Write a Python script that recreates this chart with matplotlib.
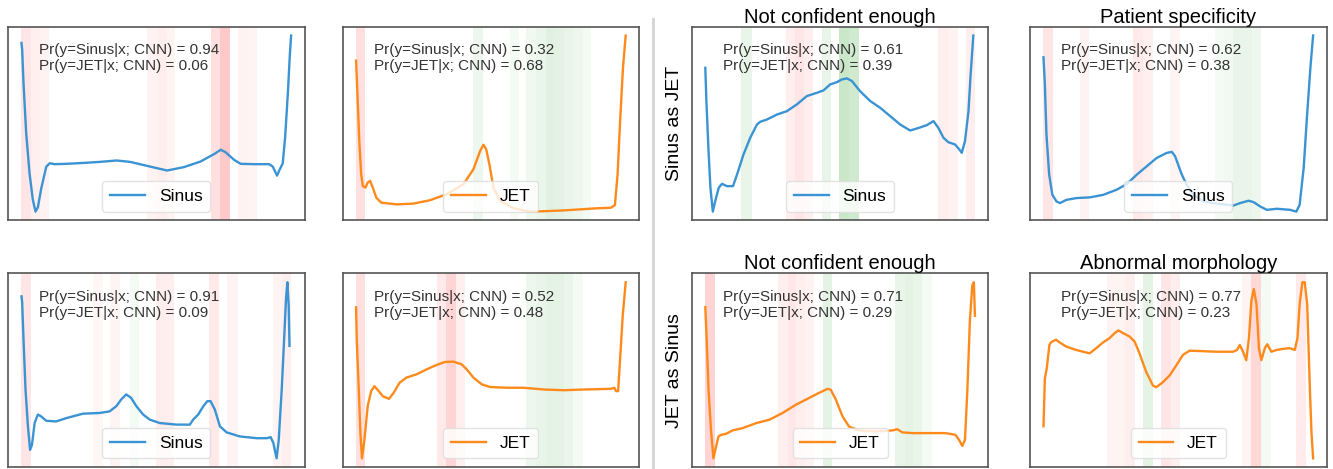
import matplotlib
matplotlib.use("Agg")
import matplotlib.pyplot as plt
from matplotlib.lines import Line2D

plt.rcParams["font.family"] = ["Liberation Sans", "DejaVu Sans"]

# ---- waveforms: (x, y) pairs, x in % of the beat, y in arbitrary units
p1_x = [0, 0.25, 0.75, 1.74, 2.99, 4.23, 5.22, 6.09, 7.34, 9.2, 10.45, 12.3, 16.7, 22.9, 29.1, 35.3, 40.3,
        47.8, 54.0, 60.2, 66.4, 71.4, 73.9, 75.7, 78.9, 81.3, 86.3, 91.9, 93.2, 94.8, 95.6, 96.9, 97.8,
        98.8, 99.5, 100]
p1_y = [96.4, 92.6, 73.6, 45.1, 22.2, 7.0, 0.4, 2.9, 13.7, 26.0, 27.9, 27.4, 27.6, 28.1, 28.7, 29.5, 28.7,
        26.0, 23.8, 25.7, 28.9, 33.1, 35.6, 34.2, 29.8, 27.6, 27.4, 27.4, 26.0, 20.9, 23.8, 27.9, 43.2,
        67.9, 88.8, 100.6]

p2_x = [0, 0.1, 0.6, 1.2, 1.9, 2.5, 3.5, 4.3, 5.2, 6.2, 7.5, 9.3, 14.9, 21.1, 27.3, 33.5, 39.8, 43.5,
        46.0, 47.2, 48.2, 49.4, 50.9, 53.4, 58.4, 64.6, 70.8, 77.0, 83.2, 89.4, 94.4, 95.9, 96.9, 97.9,
        98.9, 99.9]
p2_y = [86.1, 82.3, 63.4, 40.7, 21.8, 15.2, 14.3, 17.1, 18.1, 14.3, 8.6, 5.8, 4.8, 5.2, 7.1, 10.5, 16.2,
        24.7, 35.1, 38.5, 36.1, 27.5, 14.3, 6.7, 2.6, 0.7, 1.0, 1.4, 2.0, 2.6, 2.9, 4.4, 21.8, 53.9,
        82.3, 100.3]

p3_x = [0, 0.4, 1.2, 1.9, 2.8, 3.7, 5.0, 6.2, 8.0, 10.3, 11.8, 14.2, 16.7, 19.2, 20.4, 22.9, 26.6, 30.3,
        34.0, 37.7, 41.5, 43.9, 46.4, 48.9, 50.7, 52.6, 54.5, 57.5, 61.3, 65.0, 68.7, 72.4, 76.1, 78.6,
        82.3, 84.8, 86.6, 88.5, 90.3, 92.8, 94.4, 95.3, 96.5, 97.8, 98.6, 99.6]
p3_y = [81.5, 62.7, 34.5, 13.8, 0.3, 6.3, 13.8, 16.0, 14.7, 14.7, 21.3, 32.6, 42.0, 49.5, 51.0, 52.3,
        55.1, 57.0, 60.8, 65.5, 67.4, 68.7, 72.1, 73.4, 74.9, 75.5, 74.0, 68.3, 62.7, 58.9, 54.2, 49.5,
        46.1, 47.2, 49.1, 51.4, 47.6, 42.0, 39.5, 38.2, 35.4, 33.5, 40.1, 57.0, 77.7, 99.7]

p4_x = [0, 0.5, 1.1, 2.1, 3.3, 4.8, 6.1, 8.5, 12.2, 17.2, 22.1, 27.1, 30.8, 34.5, 38.2, 41.9, 45.6, 47.5,
        48.7, 51.2, 53.0, 55.5, 59.2, 62.9, 70.3, 72.8, 75.9, 77.8, 80.2, 82.7, 86.4, 91.3, 93.6, 94.8,
        96.3, 97.5, 98.8, 99.8]
p4_y = [87.1, 72.1, 43.8, 21.3, 10.0, 6.3, 5.4, 7.2, 8.2, 8.6, 10.0, 12.9, 16.0, 21.3, 26.0, 30.7, 33.5,
        34.1, 31.7, 21.3, 15.7, 10.0, 6.3, 5.4, 4.0, 5.4, 6.7, 5.9, 3.5, 1.6, 2.2, 1.6, 0.6, 4.4, 25.0,
        53.3, 81.4, 99.3]

p5_x = [0, 0.25, 0.75, 1.5, 2.4, 3.2, 3.9, 4.9, 6.1, 7.3, 9.2, 12.9, 16.7, 22.9, 29.1, 32.8, 35.3, 37.1,
        39.0, 40.8, 42.8, 45.3, 47.8, 51.5, 57.7, 62.7, 63.9, 65.8, 67.7, 69.2, 70.4, 72.0, 73.9, 76.4,
        81.3, 87.6, 91.3, 92.8, 93.8, 95.0, 95.8, 96.9, 97.8, 98.5, 99.0, 99.5, 99.8]
p5_y = [91.9, 88.5, 67.6, 39.1, 18.2, 4.9, 7.7, 20.1, 24.9, 23.9, 21.4, 21.0, 22.9, 25.4, 25.8, 26.7,
        29.6, 33.4, 36.3, 34.4, 29.6, 24.9, 22.0, 20.1, 19.2, 19.2, 22.0, 24.9, 29.6, 32.5, 32.5, 27.7,
        18.2, 14.8, 12.5, 11.5, 11.5, 12.1, 8.7, 0.1, 10.6, 39.1, 67.6, 90.4, 99.9, 86.6, 63.8]

p6_x = [0, 0.25, 1.0, 1.6, 2.2, 3.1, 4.3, 5.6, 6.8, 8.4, 9.9, 12.2, 13.9, 16.1, 18.6, 22.4, 26.1, 29.8,
        32.9, 36.0, 39.1, 41.0, 43.5, 46.6, 49.7, 55.9, 62.1, 69.6, 77.0, 84.5, 94.4, 95.7, 96.3, 97.1,
        97.9, 98.8, 99.9]
p6_y = [85.7, 67.6, 39.1, 14.4, 0.1, 10.6, 29.6, 38.2, 41.0, 38.2, 35.3, 33.8, 37.2, 42.9, 45.8, 47.7,
        50.5, 53.0, 54.7, 54.9, 53.4, 50.5, 45.8, 42.0, 40.5, 40.1, 40.1, 39.1, 38.7, 39.1, 39.5, 40.1,
        38.2, 38.2, 58.1, 80.9, 99.9]

p7_x = [0, 0.5, 1.2, 2.1, 3.0, 4.0, 4.9, 5.8, 7.7, 10.1, 13.8, 18.8, 23.7, 28.6, 33.6, 38.5, 42.2, 45.3,
        46.5, 48.4, 50.9, 53.3, 57.0, 63.2, 69.4, 71.2, 73.1, 76.8, 81.7, 89.1, 92.8, 94.1, 95.3, 96.3,
        97.2, 98.1, 99.0, 99.6, 100.0]
p7_y = [85.2, 67.2, 38.8, 16.2, 0.1, 6.7, 12.4, 13.3, 13.9, 15.8, 17.1, 19.9, 21.8, 25.6, 30.3, 34.1,
        37.0, 39.2, 38.8, 33.2, 23.7, 18.0, 15.8, 15.2, 15.8, 16.5, 14.7, 14.3, 14.3, 14.3, 13.3, 10.5,
        7.1, 10.5, 38.8, 76.7, 97.4, 99.3, 80.4]

p8_x = [0, 0.5, 1.2, 2.2, 2.8, 3.8, 4.7, 5.9, 8.4, 12.1, 17.1, 19.6, 22.0, 24.5, 26.4, 27.8, 29.5, 31.9,
        33.8, 35.6, 38.1, 40.6, 41.8, 44.3, 46.8, 49.3, 51.7, 54.2, 57.9, 64.1, 70.3, 71.8, 72.8, 74.0,
        75.2, 76.2, 77.1, 78.0, 79.0, 79.9, 80.8, 82.1, 83.0, 84.5, 86.4, 88.9, 91.3, 93.2, 94.2, 95.0,
        96.0, 96.9, 97.8, 98.8, 99.4, 100.0]
p8_y = [18.0, 44.5, 50.2, 63.4, 64.9, 65.7, 66.3, 64.9, 62.5, 60.6, 58.7, 61.6, 64.7, 67.2, 70.0, 71.5,
        70.0, 68.1, 65.3, 58.7, 48.3, 40.7, 39.8, 42.6, 46.4, 52.1, 57.8, 60.2, 60.0, 59.6, 59.6, 60.6,
        63.4, 59.6, 54.9, 67.2, 88.0, 94.6, 86.1, 61.6, 54.9, 61.6, 63.8, 59.6, 60.6, 61.2, 61.6, 60.6,
        67.2, 86.1, 98.4, 98.4, 86.1, 38.8, 14.2, 0.1]

# ---- saliency bands: (start, end, colour, strength)
p1_bands = [(0, 3.6, "r", 0.12), (3.6, 7.0, "r", 0.07), (7.0, 10.2, "r", 0.06), (46.5, 50.2, "r", 0.06),
            (50.2, 54.0, "r", 0.08), (54.0, 57.1, "r", 0.05), (70.4, 73.5, "r", 0.14), (73.5, 77.4, "r", 0.25),
            (80.3, 83.8, "r", 0.06), (83.8, 87.3, "r", 0.05)]
p2_bands = [(0, 3.2, "r", 0.15), (43.5, 47.2, "g", 0.08), (56.9, 60.2, "g", 0.05), (63.1, 66.5, "g", 0.07),
            (66.5, 70.2, "g", 0.09), (70.2, 73.5, "g", 0.14), (73.5, 77.0, "g", 0.13), (77.0, 80.4, "g", 0.1),
            (80.4, 83.9, "g", 0.08), (83.9, 87.2, "g", 0.05)]
p3_bands = [(13.4, 17.3, "g", 0.1), (30.1, 33.4, "r", 0.08), (33.4, 36.8, "r", 0.12), (36.8, 40.2, "r", 0.08),
            (43.3, 46.8, "g", 0.1), (49.8, 53.5, "g", 0.25), (53.5, 57.3, "g", 0.22), (86.6, 90.3, "r", 0.08),
            (90.3, 93.8, "r", 0.06), (96.9, 100.2, "r", 0.08)]
p4_bands = [(0, 3.6, "r", 0.12), (13.5, 16.9, "r", 0.06), (33.3, 37.0, "r", 0.1), (37.0, 40.7, "r", 0.07),
            (46.8, 50.6, "r", 0.05), (63.5, 66.9, "g", 0.05), (66.9, 70.3, "g", 0.06), (70.3, 73.8, "g", 0.1),
            (73.8, 77.1, "g", 0.1), (77.1, 80.5, "g", 0.08)]
p5_bands = [(0, 3.6, "r", 0.12), (26.6, 30.3, "r", 0.04), (32.8, 36.6, "r", 0.05), (40.3, 43.8, "g", 0.05),
            (50.2, 53.4, "r", 0.08), (53.4, 56.7, "r", 0.08), (69.9, 73.6, "r", 0.1), (76.7, 80.5, "r", 0.05),
            (93.5, 96.9, "r", 0.05), (96.9, 100.4, "r", 0.08)]
p6_bands = [(0, 3.2, "r", 0.15), (30.1, 33.3, "r", 0.1), (33.3, 37.0, "r", 0.2), (37.0, 40.4, "r", 0.07),
            (63.1, 66.5, "g", 0.08), (66.5, 70.2, "g", 0.1), (70.2, 73.5, "g", 0.12), (73.5, 77.0, "g", 0.12),
            (77.0, 80.5, "g", 0.09), (80.5, 83.9, "g", 0.05)]
p7_bands = [(0, 3.7, "r", 0.2), (27.0, 30.5, "r", 0.08), (30.5, 33.6, "r", 0.11), (33.6, 37.0, "r", 0.08),
            (37.0, 40.4, "r", 0.06), (43.5, 46.9, "g", 0.12), (70.4, 74.0, "g", 0.1), (74.0, 77.2, "g", 0.12),
            (77.2, 80.5, "g", 0.1), (80.5, 84.0, "g", 0.05)]
p8_bands = [(23.5, 26.9, "r", 0.05), (26.9, 30.4, "r", 0.05), (30.4, 33.8, "r", 0.08), (36.9, 40.6, "g", 0.12),
            (43.4, 47.2, "r", 0.12), (47.2, 50.5, "r", 0.08), (73.8, 77.1, "r", 0.05), (77.1, 80.8, "r", 0.18),
            (80.8, 84.2, "g", 0.05), (93.8, 97.5, "r", 0.09)]

labels = ["Sinus", "JET", "Sinus", "Sinus", "Sinus", "JET", "JET", "JET"]
pr_sinus = [0.94, 0.32, 0.61, 0.62, 0.91, 0.52, 0.71, 0.77]
titles = ["", "", "Not confident enough", "Patient specificity",
          "", "", "Not confident enough", "Abnormal morphology"]
row_names = {2: "Sinus as JET", 6: "JET as Sinus"}

xs = [p1_x, p2_x, p3_x, p4_x, p5_x, p6_x, p7_x, p8_x]
ys = [p1_y, p2_y, p3_y, p4_y, p5_y, p6_y, p7_y, p8_y]
bands = [p1_bands, p2_bands, p3_bands, p4_bands, p5_bands, p6_bands, p7_bands, p8_bands]

line_color = {"Sinus": "#3a93d3", "JET": "#ff8a1c"}
band_color = {"r": "#ff2a2a", "g": "#2ca02c"}

fig = plt.figure(figsize=(13.33, 4.69), dpi=100)

lefts = [0.006, 0.257, 0.519, 0.7727]
bottoms = [0.53, 0.004]
w, h = 0.2225, 0.413

for i in range(8):
    row, col = divmod(i, 4)
    ax = fig.add_axes([lefts[col], bottoms[row], w, h])
    for (a, b, c, s) in bands[i]:
        ax.axvspan(a, b, color=band_color[c], alpha=s, lw=0)
    ax.plot(xs[i], ys[i], color=line_color[labels[i]], lw=1.7, label=labels[i])
    ax.set_xticks([])
    ax.set_yticks([])
    for sp in ax.spines.values():
        sp.set_color("#555555")
        sp.set_linewidth(1.2)
    ax.text(0.105, 0.915,
            "Pr(y=Sinus|x; CNN) = %.2f\nPr(y=JET|x; CNN) = %.2f" % (pr_sinus[i], 1 - pr_sinus[i]),
            transform=ax.transAxes, ha="left", va="top", fontsize=11, color="#333333", linespacing=1.15)
    leg = ax.legend(loc="lower center", fontsize=12.5, handlelength=2.0, borderpad=0.45,
                    framealpha=0.8, fancybox=True)
    leg.get_frame().set_edgecolor("#dddddd")
    if titles[i]:
        ax.set_title(titles[i], fontsize=14.5, pad=3)
    if i in row_names:
        ax.set_ylabel(row_names[i], fontsize=14, labelpad=6)

# separator between the two halves
fig.add_artist(Line2D([0.49, 0.49], [0.0, 0.96], transform=fig.transFigure, color="#d4d4d4", lw=2))

fig.savefig("out.png", dpi=100)
